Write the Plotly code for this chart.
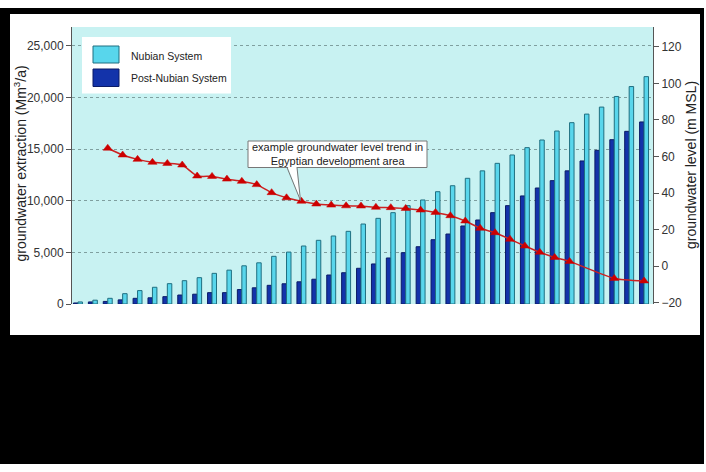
import plotly.graph_objects as go

# ---- data -------------------------------------------------------------
years = list(range(1960, 1999))

# groundwater extraction, Mm3/a
post_nubian = [100, 200, 250, 400, 550, 600, 710, 870, 950, 1100,
               1100, 1400, 1570, 1810, 1960, 2150, 2400, 2810, 3030, 3460,
               3880, 4460, 4970, 5550, 6230, 6780, 7560, 8140, 8850, 9530,
               10470, 11240, 11950, 12900, 13860, 14890, 15920, 16730, 17640]
nubian = [200, 370, 550, 1000, 1300, 1620, 1970, 2260, 2550, 2970,
          3280, 3700, 3990, 4620, 5030, 5620, 6170, 6590, 7040, 7750,
          8300, 8850, 9530, 10080, 10880, 11460, 12180, 12900, 13630, 14440,
          15150, 15890, 16760, 17570, 18400, 19080, 20110, 21070, 22030]

# groundwater level, m MSL
level_years = [1962, 1963, 1964, 1965, 1966, 1967, 1968, 1969, 1970, 1971,
               1972, 1973, 1974, 1975, 1976, 1977, 1978, 1979, 1980, 1981,
               1982, 1983, 1984, 1985, 1986, 1987, 1988, 1989, 1990, 1991,
               1992, 1993, 1996, 1998]
level = [64.5, 60.8, 58.4, 56.8, 56.2, 55.3, 49.3, 49.1, 47.6, 46.4,
         44.6, 40.2, 37.4, 35.5, 34.0, 33.4, 33.0, 32.9, 32.2, 32.0,
         31.6, 30.7, 29.4, 27.6, 24.7, 20.7, 18.3, 14.7, 11.0, 7.6,
         4.8, 2.6, -6.7, -8.1]

year_ticks = [1965, 1970, 1975, 1980, 1985, 1990, 1995]
extraction_ticks = [0, 5000, 10000, 15000, 20000, 25000]

# ---- styling ----------------------------------------------------------
FONT = "Liberation Sans, Arial, sans-serif"
PLOT_BG = "#c8f2f2"
CYAN = "#58d6ec"
CYAN_EDGE = "#1f6f80"
BLUE = "#1333aa"
BLUE_EDGE = "#0b1b66"
RED = "#cc0000"
AXIS = "#555555"
TEXT = "#222222"

W, H = 706, 472
L, R, T, B = 72, 653, 27, 304   # plot area in page pixels


def px(xp):
    return (xp - L) / (R - L)


def py(yp):
    return (B - yp) / (B - T)


fig = go.Figure()

fig.add_trace(go.Bar(
    x=years, y=post_nubian, name="Post-Nubian System",
    xaxis="x2", yaxis="y", offset=-0.3, width=0.3,
    marker=dict(color=BLUE, line=dict(color=BLUE_EDGE, width=1)),
))
fig.add_trace(go.Bar(
    x=years, y=nubian, name="Nubian System",
    xaxis="x2", yaxis="y", offset=0.0, width=0.3,
    marker=dict(color=CYAN, line=dict(color=CYAN_EDGE, width=1)),
))
fig.add_trace(go.Scatter(
    x=level_years, y=level, name="groundwater level",
    xaxis="x2", yaxis="y2", mode="lines+markers",
    line=dict(color="#cc2222", width=1.5, shape="spline", smoothing=0.5),
    marker=dict(symbol="triangle-up", size=8, color=RED,
                line=dict(color=RED, width=0.5)),
))

# ---- frame: black border around the white panel -----------------------
shapes = []
for x0, y0, x1, y1 in [(0, 8, 704, 14), (0, 8, 10, 464),
                       (700, 8, 704, 464), (0, 335, 704, 464)]:
    shapes.append(dict(type="rect", xref="paper", yref="paper",
                       x0=px(x0), x1=px(x1), y0=py(y0), y1=py(y1),
                       fillcolor="black", line=dict(width=0), layer="below"))

# ---- legend box -------------------------------------------------------
shapes.append(dict(type="rect", xref="paper", yref="paper",
                   x0=px(82), x1=px(231), y0=py(37), y1=py(93.5),
                   fillcolor="white", line=dict(width=0)))
shapes.append(dict(type="rect", xref="paper", yref="paper",
                   x0=px(93), x1=px(119), y0=py(46), y1=py(63),
                   fillcolor=CYAN, line=dict(color=CYAN_EDGE, width=1)))
shapes.append(dict(type="rect", xref="paper", yref="paper",
                   x0=px(93), x1=px(119), y0=py(69), y1=py(86.5),
                   fillcolor=BLUE, line=dict(color=BLUE_EDGE, width=1)))

# ---- callout ----------------------------------------------------------
shapes.append(dict(type="rect", xref="paper", yref="paper",
                   x0=px(248), x1=px(427), y0=py(141), y1=py(167.5),
                   fillcolor="white", line=dict(color="#777777", width=1)))
tip = (300.5, 200.5)
shapes.append(dict(type="path", xref="paper", yref="paper",
                   path=f"M {px(287.5)} {py(166)} L {px(tip[0])} {py(tip[1])} "
                        f"L {px(296.5)} {py(166)} Z",
                   fillcolor="white", line=dict(width=0)))
shapes.append(dict(type="path", xref="paper", yref="paper",
                   path=f"M {px(287)} {py(167.5)} L {px(tip[0])} {py(tip[1])} "
                        f"L {px(297)} {py(167.5)}",
                   line=dict(color="#777777", width=1)))

annotations = [
    dict(xref="paper", yref="paper", x=px(129), y=py(56), xanchor="left",
         yanchor="middle", text="Nubian System", showarrow=False,
         font=dict(family=FONT, size=10.5, color=TEXT)),
    dict(xref="paper", yref="paper", x=px(129), y=py(77.5), xanchor="left",
         yanchor="middle", text="Post-Nubian System", showarrow=False,
         font=dict(family=FONT, size=10.5, color=TEXT)),
    dict(xref="paper", yref="paper", x=px(337.5), y=py(154), xanchor="center",
         yanchor="middle", align="center", showarrow=False,
         text="example groundwater level trend in<br>Egyptian development area",
         font=dict(family=FONT, size=11, color=TEXT)),
    # axis titles
    dict(xref="paper", yref="paper", x=px(20.5), y=py(164), xanchor="center",
         yanchor="middle", textangle=-90, showarrow=False,
         text="groundwater extraction (Mm<sup>3</sup>/a)",
         font=dict(family=FONT, size=14, color=TEXT)),
    dict(xref="paper", yref="paper", x=px(691), y=py(165), xanchor="center",
         yanchor="middle", textangle=-90, showarrow=False,
         text="groundwater level (m MSL)",
         font=dict(family=FONT, size=14, color=TEXT)),
]

fig.update_layout(
    width=W, height=H,
    margin=dict(l=L, r=W - R, t=T, b=H - B, pad=0),
    paper_bgcolor="white", plot_bgcolor=PLOT_BG,
    font=dict(family=FONT, size=12, color="#333333"),
    showlegend=False, barmode="overlay",
    shapes=shapes, annotations=annotations,
    xaxis=dict(
        range=[1960, 1999], tickmode="array", tickvals=year_ticks,
        ticks="outside", ticklen=4, tickcolor=AXIS,
        minor=dict(tickmode="linear", tick0=1960, dtick=1,
                   ticks="outside", ticklen=4, tickcolor=AXIS),
        showline=True, linecolor=AXIS, linewidth=1, mirror=True,
        showgrid=False, zeroline=False,
        tickfont=dict(size=12, color="#333333"),
    ),
    xaxis2=dict(range=[1959.6, 1998.6], overlaying="x", visible=False),
    yaxis=dict(
        range=[0, 26840], tickvals=extraction_ticks, tickformat=",d",
        ticks="outside", ticklen=5, tickcolor=AXIS,
        showline=True, linecolor=AXIS, linewidth=1, mirror=False,
        showgrid=True, gridcolor="#7f9f9f", griddash="dot", gridwidth=1,
        zeroline=False,
    ),
    yaxis2=dict(
        range=[-20.7, 130.8], overlaying="y", side="right",
        tickmode="linear", tick0=-20, dtick=20,
        ticks="outside", ticklen=5, tickcolor=AXIS,
        showline=True, linecolor=AXIS, linewidth=1,
        showgrid=False, zeroline=False,
    ),
)

fig.write_html("out.html")
